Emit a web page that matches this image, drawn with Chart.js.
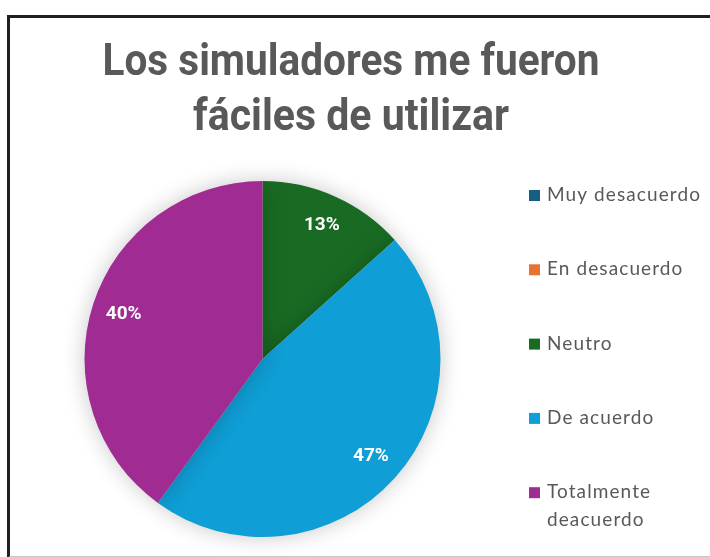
<!DOCTYPE html>
<html>
<head>
<meta charset="utf-8">
<script src="https://cdn.jsdelivr.net/npm/chart.js@4.4.1/dist/chart.umd.min.js"></script>
<style>
  html, body { margin: 0; padding: 0; background: #fff; }
  #wrap { position: relative; width: 710px; height: 557px; overflow: hidden; }
  #frame {
    position: absolute; left: 7px; top: 15px; width: 720px; height: 538px;
    border-left: 3px solid #1f1f1f; border-top: 3px solid #1f1f1f;
    border-bottom: 2px solid #c8c8c8;
  }
  canvas { position: absolute; left: 0; top: 0; }
</style>
</head>
<body>
<div id="wrap">
  <div id="frame"></div>
  <canvas id="pieChart" width="710" height="557"></canvas>
</div>
<script>
// survey answers (15 respondents)
const categories = ['Muy desacuerdo', 'En desacuerdo', 'Neutro', 'De acuerdo', 'Totalmente deacuerdo'];
const legendLines = [['Muy desacuerdo'], ['En desacuerdo'], ['Neutro'], ['De acuerdo'], ['Totalmente', 'deacuerdo']];
const answers = [0, 0, 2, 7, 6];
const sliceColors = ['#156082', '#E97132', '#196B24', '#0F9ED5', '#A02B93'];
const titleLines = ['Los simuladores me fueron', 'fáciles de utilizar'];

const textGray = '#595959';

// title drawn on the canvas, squeezed a bit to match the narrow office font
const titlePlugin = {
    id: 'titleLines',
    afterDraw(chart) {
        const ctx = chart.ctx;
        ctx.save();
        ctx.fillStyle = textGray;
        ctx.textAlign = 'center';
        ctx.textBaseline = 'alphabetic';
        ctx.font = 'bold 44px Roboto';
        const widths = [497, 316];
        const baselines = [75, 130];
        titleLines.forEach((line, i) => {
            const w = ctx.measureText(line).width;
            const sx = Math.min(1, widths[i] / w);
            ctx.save();
            ctx.translate(351, baselines[i]);
            ctx.scale(sx, 1);
            ctx.fillText(line, 0, 0);
            ctx.restore();
        });
        ctx.restore();
    }
};

// legend on the right, one row every 74px
const legendPlugin = {
    id: 'sideLegend',
    afterDraw(chart) {
        const ctx = chart.ctx;
        const colors = chart.data.datasets[0].backgroundColor;
        ctx.save();
        ctx.font = '19px Lato';
        ctx.letterSpacing = '1.1px';
        ctx.textBaseline = 'middle';
        ctx.textAlign = 'left';
        legendLines.forEach((lines, i) => {
            const y = 195 + i * 74.3;
            ctx.fillStyle = colors[i];
            ctx.fillRect(529, y - 5, 11, 11);
            ctx.fillStyle = textGray;
            lines.forEach((t, j) => ctx.fillText(t, 547, y + j * 28));
        });
        ctx.restore();
    }
};

// percent labels inside the slices
const pctPlugin = {
    id: 'pctLabels',
    afterDatasetsDraw(chart) {
        const ctx = chart.ctx;
        const data = chart.data.datasets[0].data;
        const total = data.reduce((a, b) => a + b, 0);
        ctx.save();
        ctx.font = 'bold 19px Roboto';
        ctx.fillStyle = '#fff';
        ctx.textAlign = 'center';
        ctx.textBaseline = 'middle';
        chart.getDatasetMeta(0).data.forEach((arc, i) => {
            if (!data[i]) return;
            const p = arc.getProps(['x', 'y', 'startAngle', 'endAngle', 'outerRadius'], true);
            const mid = (p.startAngle + p.endAngle) / 2;
            const r = p.outerRadius * 0.82;
            ctx.fillText(Math.round(data[i] / total * 100) + '%', p.x + Math.cos(mid) * r, p.y + Math.sin(mid) * r);
        });
        ctx.restore();
    }
};

// soft shadow around the pie
const shadowPlugin = {
    id: 'pieShadow',
    beforeDatasetsDraw(chart) {
        const ctx = chart.ctx;
        ctx.save();
        ctx.shadowColor = 'rgba(0,0,0,0.22)';
        ctx.shadowBlur = 22;
    },
    afterDatasetsDraw(chart) {
        chart.ctx.restore();
    }
};

new Chart(document.getElementById('pieChart').getContext('2d'), {
    type: 'pie',
    data: {
        labels: categories,
        datasets: [{
            data: answers,
            backgroundColor: sliceColors,
            borderWidth: 0
        }]
    },
    options: {
        responsive: false,
        animation: false,
        layout: { padding: { left: 84, right: 269, top: 181, bottom: 20 } },
        plugins: {
            legend: { display: false },
            title: { display: false },
            tooltip: { enabled: false }
        }
    },
    plugins: [shadowPlugin, pctPlugin, titlePlugin, legendPlugin]
});
</script>
</body>
</html>
